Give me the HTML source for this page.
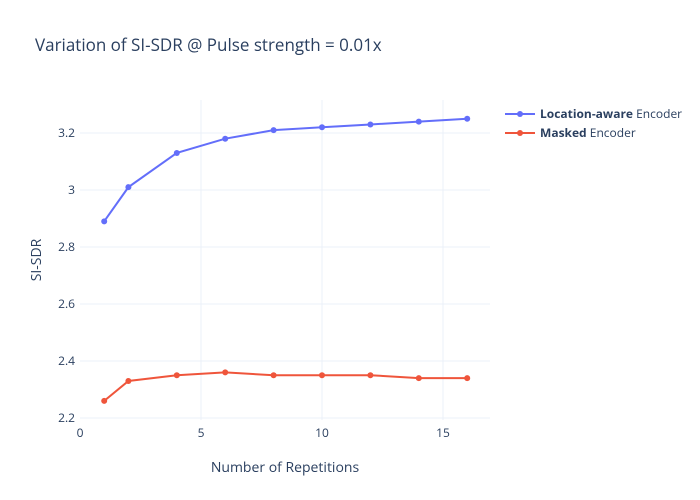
<!DOCTYPE html>
<html><head><meta charset="utf-8"><style>
body{margin:0;background:#fff}
svg{display:block;font-family:"Open Sans","Liberation Sans",sans-serif}
</style></head><body>
<svg width="700" height="500" viewBox="0 0 700 500">
<rect width="700" height="500" fill="#fff"/>
<g stroke="#ebf0f8" stroke-width="1">
<line x1="80" x2="490" y1="133" y2="133"/>
<line x1="80" x2="490" y1="190" y2="190"/>
<line x1="80" x2="490" y1="247" y2="247"/>
<line x1="80" x2="490" y1="304" y2="304"/>
<line x1="80" x2="490" y1="361" y2="361"/>
<line x1="80" x2="490" y1="418" y2="418"/>
<line x1="201" x2="201" y1="100" y2="420"/>
<line x1="322" x2="322" y1="100" y2="420"/>
<line x1="443" x2="443" y1="100" y2="420"/>
</g>
<g fill="#2a3f5f" font-size="12">
<text x="35" y="51" font-size="17">Variation of SI-SDR @ Pulse strength = 0.01x</text>
<g text-anchor="end">
<text x="75" y="137">3.2</text>
<text x="75" y="194">3</text>
<text x="75" y="251">2.8</text>
<text x="75" y="308">2.6</text>
<text x="75" y="365">2.4</text>
<text x="75" y="422">2.2</text>
</g>
<g text-anchor="middle">
<text x="80" y="437">0</text>
<text x="201" y="437">5</text>
<text x="322" y="437">10</text>
<text x="443" y="437">15</text>
<text x="285" y="472" font-size="14">Number of Repetitions</text>
</g>
<text transform="translate(41,260) rotate(-90)" text-anchor="middle" font-size="14">SI-SDR</text>
</g>
<g fill="none" stroke-width="2">
<polyline stroke="#636efa" points="104.2,221.35 128.4,187.15 176.8,152.95 225.2,138.7 273.6,130.15 322,127.3 370.4,124.45 418.8,121.6 467.2,118.75"/>
<polyline stroke="#ef553b" points="104.2,400.9 128.4,380.95 176.8,375.25 225.2,372.4 273.6,375.25 322,375.25 370.4,375.25 418.8,378.1 467.2,378.1"/>
</g>
<g fill="#636efa">
<circle cx="104.2" cy="221.35" r="3"/><circle cx="128.4" cy="187.15" r="3"/><circle cx="176.8" cy="152.95" r="3"/><circle cx="225.2" cy="138.7" r="3"/><circle cx="273.6" cy="130.15" r="3"/><circle cx="322" cy="127.3" r="3"/><circle cx="370.4" cy="124.45" r="3"/><circle cx="418.8" cy="121.6" r="3"/><circle cx="467.2" cy="118.75" r="3"/>
</g>
<g fill="#ef553b">
<circle cx="104.2" cy="400.9" r="3"/><circle cx="128.4" cy="380.95" r="3"/><circle cx="176.8" cy="375.25" r="3"/><circle cx="225.2" cy="372.4" r="3"/><circle cx="273.6" cy="375.25" r="3"/><circle cx="322" cy="375.25" r="3"/><circle cx="370.4" cy="375.25" r="3"/><circle cx="418.8" cy="378.1" r="3"/><circle cx="467.2" cy="378.1" r="3"/>
</g>
<line x1="505" x2="535" y1="114" y2="114" stroke="#636efa" stroke-width="2"/>
<circle cx="520" cy="114" r="3" fill="#636efa"/>
<line x1="505" x2="535" y1="133" y2="133" stroke="#ef553b" stroke-width="2"/>
<circle cx="520" cy="133" r="3" fill="#ef553b"/>
<g fill="#2a3f5f" font-size="12">
<text x="540" y="118"><tspan font-weight="bold">Location-aware</tspan> Encoder</text>
<text x="540" y="137"><tspan font-weight="bold">Masked</tspan> Encoder</text>
</g>
</svg>
</body></html>
